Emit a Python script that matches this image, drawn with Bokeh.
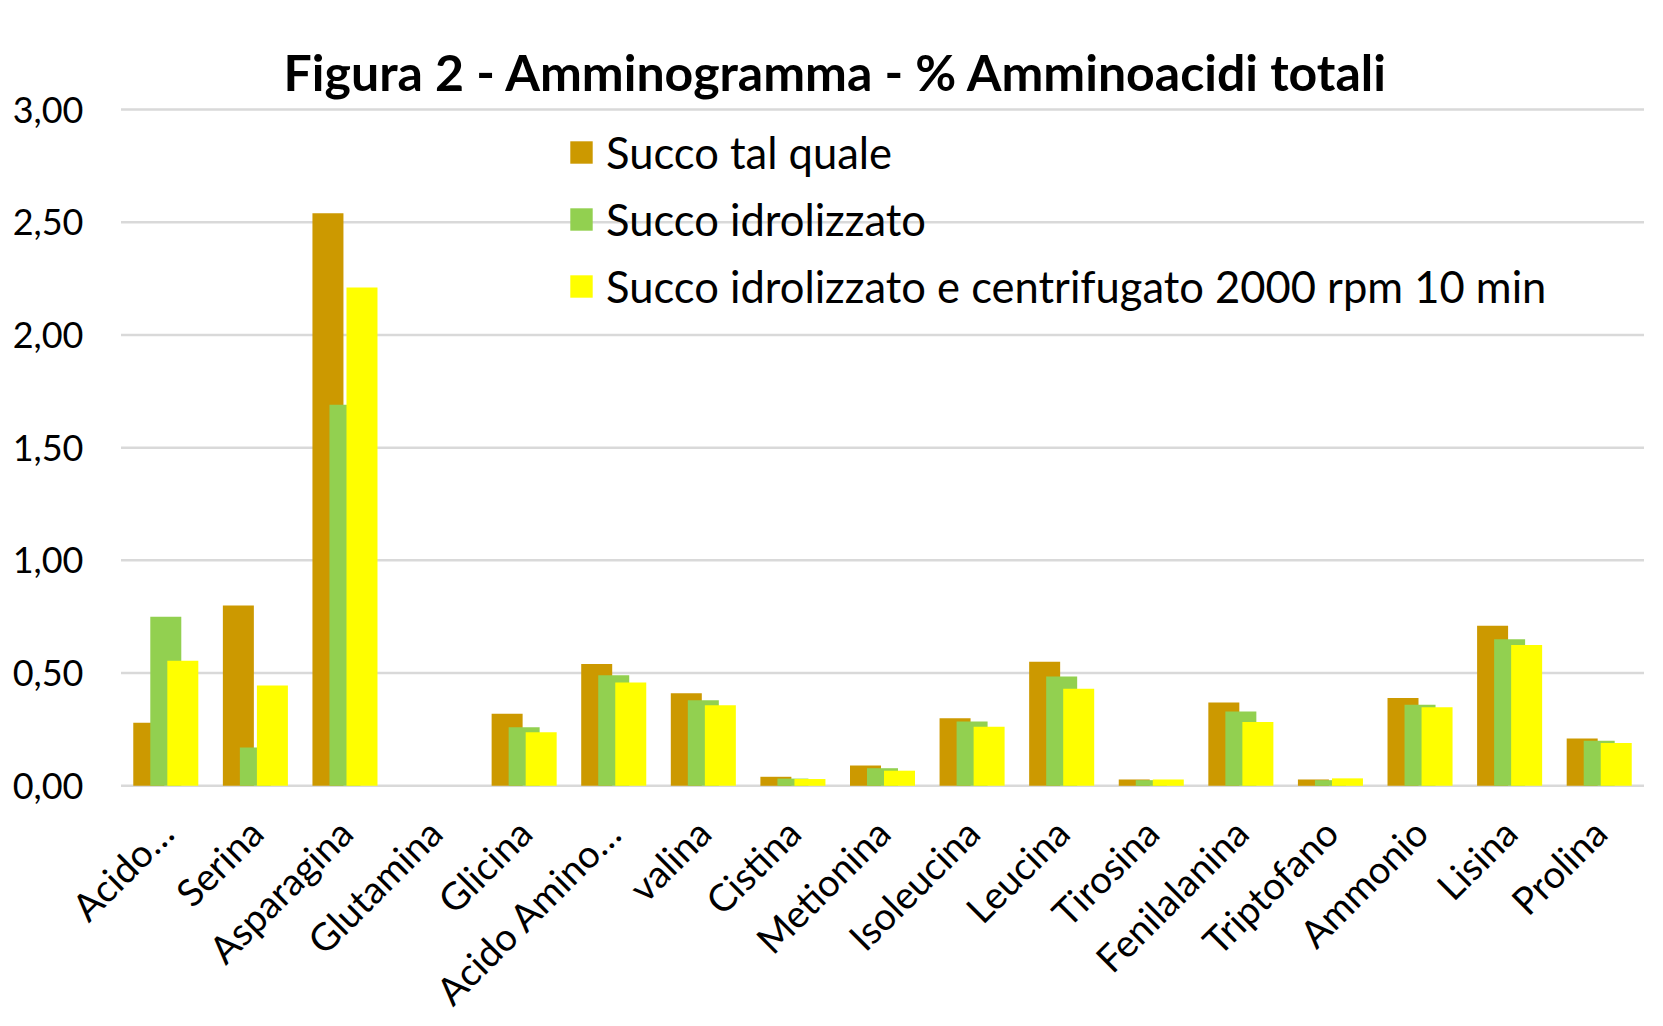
from bokeh.plotting import figure
from bokeh.models import Range1d, Legend, LegendItem, Label, FixedTicker, ColumnDataSource
from bokeh.transform import dodge
from bokeh.core.properties import value
from bokeh.embed import file_html
from bokeh.resources import INLINE
from math import pi

categories = ["Acido…", "Serina", "Asparagina", "Glutamina", "Glicina", "Acido Amino…",
              "valina", "Cistina", "Metionina", "Isoleucina", "Leucina", "Tirosina",
              "Fenilalanina", "Triptofano", "Ammonio", "Lisina", "Prolina"]
succo_tal_quale = [0.28, 0.80, 2.54, 0.0, 0.32, 0.54, 0.41, 0.04, 0.09, 0.30, 0.55, 0.028,
                   0.37, 0.028, 0.39, 0.71, 0.21]
succo_idrolizzato = [0.75, 0.17, 1.69, 0.0, 0.26, 0.49, 0.38, 0.032, 0.078, 0.285, 0.485, 0.025,
                     0.33, 0.025, 0.36, 0.65, 0.20]
succo_centrifugato = [0.555, 0.445, 2.21, 0.0, 0.237, 0.458, 0.357, 0.03, 0.067, 0.262, 0.43, 0.028,
                      0.283, 0.033, 0.348, 0.625, 0.19]
series_names = ["Succo tal quale", "Succo idrolizzato",
                "Succo idrolizzato e centrifugato 2000 rpm 10 min"]
series_colors = ["#CC9900", "#92D050", "#FFFF00"]
y_ticks = [0.0, 0.5, 1.0, 1.5, 2.0, 2.5, 3.0]
y_tick_labels = ["0,00", "0,50", "1,00", "1,50", "2,00", "2,50", "3,00"]
title_text = "Figura 2 - Amminogramma - % Amminoacidi totali"

FONT = "Lato"
W, H = 1660, 1020
PX_PER_UNIT = 225.43          # vertical scale (px per value unit)
ZERO_Y = 785.3                # page y of the 0,00 gridline
TOP_Y = 109.0                 # page y of the 3,00 gridline
CAT_PX = 89.59                # px per category
PLOT_LEFT, PLOT_RIGHT = 120.5, 1643.5   # page x of the category area
FRAME_LEFT = 0
YLABEL_RIGHT = 83             # page x of the right edge of the value labels

n = len(categories)
idx = list(range(n))
source = ColumnDataSource(data=dict(idx=idx, cat=categories, s1=succo_tal_quale,
                                    s2=succo_idrolizzato, s3=succo_centrifugato))
grid_source = ColumnDataSource(data=dict(y=y_ticks, x0=[-0.5] * len(y_ticks),
                                         x1=[n - 0.5] * len(y_ticks)))

x_start = -0.5 - (PLOT_LEFT - FRAME_LEFT) / CAT_PX
x_end = n - 0.5 + (W - PLOT_RIGHT) / CAT_PX
y_start = -(H - ZERO_Y) / PX_PER_UNIT
y_end = 3.0 + TOP_Y / PX_PER_UNIT

p = figure(x_range=Range1d(x_start, x_end), y_range=Range1d(y_start, y_end),
           width=W, height=H, output_backend="svg", toolbar_location=None,
           x_axis_location=None, title=None,
           min_border_left=FRAME_LEFT, min_border_right=0, min_border_top=0,
           min_border_bottom=0)
p.outline_line_color = None
p.background_fill_color = "white"
p.border_fill_color = "white"
p.xgrid.visible = False
p.ygrid.visible = False

# horizontal gridlines across the category area
p.segment(x0="x0", x1="x1", y0="y", y1="y", source=grid_source,
          line_color="#D9D9D9", line_width=2.5)

offsets = [-0.19, 0.0, 0.19]
cols = ["s1", "s2", "s3"]
renderers = []
for col, off, color in zip(cols, offsets, series_colors):
    r = p.vbar(x=dodge("idx", off), top=col, bottom=0, width=0.346,
               source=source, fill_color=color, line_color=None)
    renderers.append(r)

# value axis (labels pulled into the plot area with a negative standoff)
p.yaxis.ticker = FixedTicker(ticks=y_ticks)
p.yaxis.major_label_overrides = dict(zip(y_ticks, y_tick_labels))
p.yaxis.axis_line_color = None
p.yaxis.major_tick_line_color = None
p.yaxis.minor_tick_line_color = None
p.yaxis.major_tick_in = 0
p.yaxis.major_tick_out = 0
p.yaxis.major_label_standoff = FRAME_LEFT - YLABEL_RIGHT
p.yaxis.major_label_text_font = FONT
p.yaxis.major_label_text_font_size = "36px"
p.yaxis.major_label_text_color = "#000000"

# category labels (rotated 45°) under each group
p.text(x="idx", y=-0.176, text="cat", source=source, angle=pi / 4,
       text_align="right", text_baseline="middle",
       text_font=value(FONT), text_font_size="38px", text_color="#000000")

# legend
legend = Legend(items=[LegendItem(label=nm, renderers=[r]) for nm, r in zip(series_names, renderers)],
                location=(567 - FRAME_LEFT, 708), orientation="vertical",
                background_fill_alpha=0, border_line_color=None,
                padding=0, margin=0, spacing=15, glyph_width=28, glyph_height=28,
                label_standoff=11, label_height=44,
                label_text_font=FONT, label_text_font_size="43.5px", label_text_color="#000000")
p.add_layout(legend, "center")

# title
title = Label(x=7.486, y=(ZERO_Y - 72.0) / PX_PER_UNIT, text=title_text,
              text_align="center", text_baseline="alphabetic",
              text_font=FONT, text_font_size="50px", text_font_style="bold", text_color="#000000")
p.add_layout(title)

open("out.html", "w").write(file_html(p, INLINE))
